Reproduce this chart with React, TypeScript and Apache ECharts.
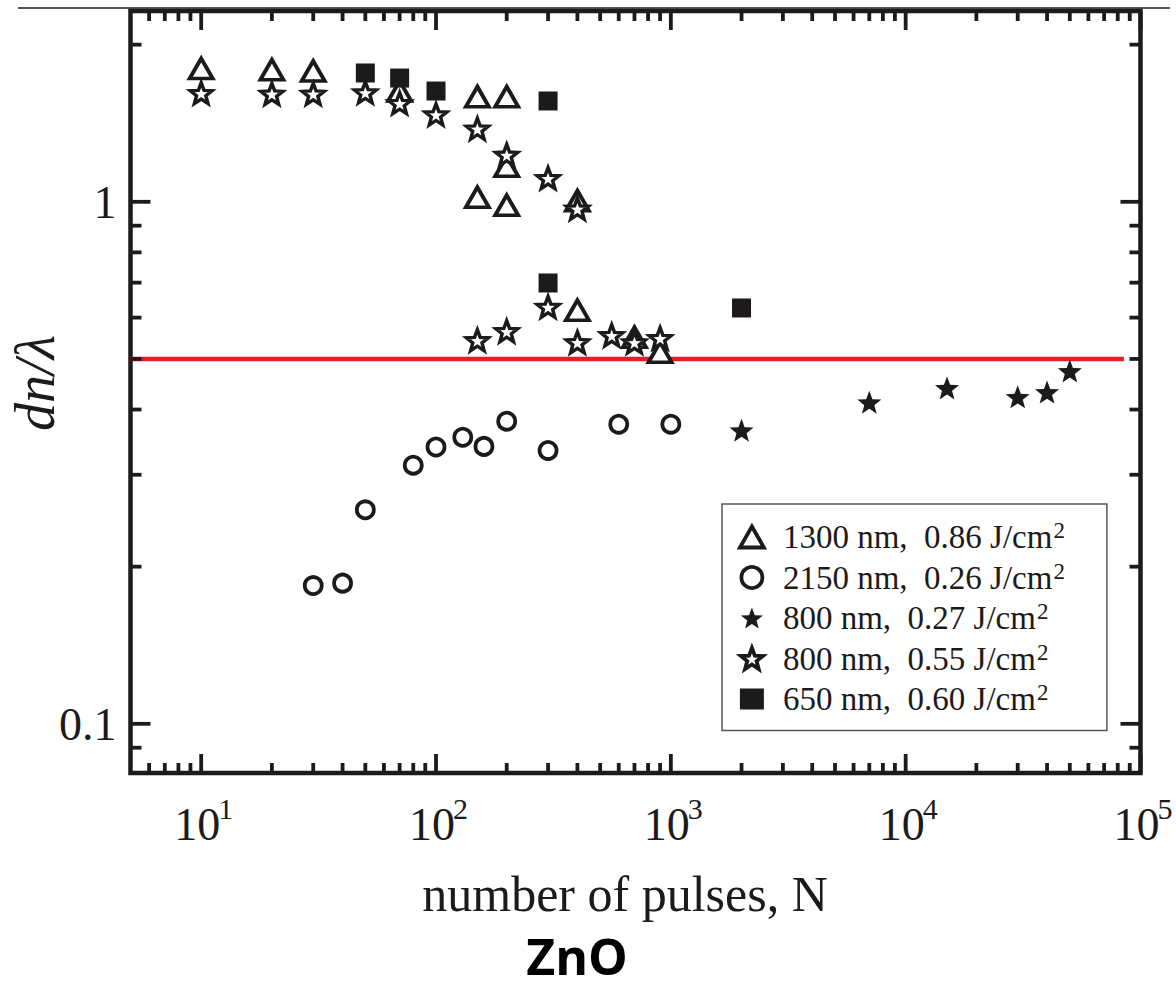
import React, { useEffect, useRef } from 'react';
import * as echarts from 'echarts';

const INK = '#1c1a1b';
const SERIF = '"Liberation Serif", "Times New Roman", serif';

// axis ranges
const X_MIN = 5;
const X_MAX = 100000;
const Y_MIN = 0.0805;
const Y_MAX = 2.32;

// ticks
const xMajorTicks = [10, 100, 1000, 10000, 100000];
const xTickExponents = ['1', '2', '3', '4', '5'];
const xMinorTicks = [6, 7, 8, 9, 20, 30, 40, 50, 60, 70, 80, 90, 200, 300, 400, 500, 600, 700, 800, 900,
  2000, 3000, 4000, 5000, 6000, 7000, 8000, 9000, 20000, 30000, 40000, 50000, 60000, 70000, 80000, 90000];
const yMajorTicks = [0.1, 1];
const yTickLabels = ['0.1', '1'];
const yMinorTicks = [0.09, 0.2, 0.3, 0.4, 0.5, 0.6, 0.7, 0.8, 0.9, 2];

// series names (legend)
const seriesNames = [
  '1300 nm,  0.86 J/cm²',
  '2150 nm,  0.26 J/cm²',
  '800 nm,  0.27 J/cm²',
  '800 nm,  0.55 J/cm²',
  '650 nm,  0.60 J/cm²',
];

// data: [N, dn/lambda]
const tri1300 = [
  [10, 1.80], [20, 1.79], [30, 1.78], [70, 1.63], [150, 1.59], [200, 1.59],
  [150, 1.02], [200, 0.985], [200, 1.17], [400, 1.005], [400, 0.62], [700, 0.55], [900, 0.515],
];
const circ2150 = [
  [30, 0.184], [40, 0.186], [50, 0.257], [80, 0.313], [100, 0.339], [130, 0.354],
  [160, 0.340], [200, 0.380], [300, 0.334], [600, 0.375], [1000, 0.375],
];
const starFilled800 = [
  [2000, 0.365], [7000, 0.413], [15000, 0.440], [30000, 0.423], [40000, 0.432], [50000, 0.474],
];
const starHollow800 = [
  [10, 1.615], [20, 1.61], [30, 1.61], [50, 1.62], [70, 1.545], [100, 1.47], [150, 1.38],
  [200, 1.23], [300, 1.11], [400, 0.97], [150, 0.543], [200, 0.565], [300, 0.629],
  [400, 0.538], [560, 0.555], [700, 0.538], [900, 0.548],
];
const square650 = [
  [50, 1.765], [70, 1.726], [100, 1.63], [300, 1.56], [300, 0.699], [2000, 0.626],
];

// red reference line
const thresholdValue = 0.5;
const thresholdRange = [5, 85000];

const STAR_PATH =
  'path://M50 0 L62.34 33.01 L97.55 34.55 L69.97 56.49 L79.39 90.45 L50 71 L20.61 90.45 L30.03 56.49 L2.45 34.55 L37.66 33.01 Z';

const hollow = { color: '#ffffff', borderColor: INK, borderWidth: 3.8, opacity: 1 };
const filled = { color: INK, opacity: 1 };

function App() {
  const ref = useRef<HTMLDivElement>(null);

  useEffect(() => {
    document.body.style.margin = '0';
    if (!ref.current) return;
    const chart = echarts.init(ref.current, null, { renderer: 'svg' });

    const xTickData = [
      ...xMajorTicks.map((v) => [v, 1, 1]),
      ...xMinorTicks.map((v) => [v, 1, 0]),
    ];
    const yTickData = [
      ...yMajorTicks.map((v) => [10, v, 1]),
      ...yMinorTicks.map((v) => [10, v, 0]),
    ];

    const renderXTicks = (params: any, api: any) => {
      const cs = params.coordSys;
      const px = api.coord([api.value(0), 1])[0];
      const len = api.value(2) ? 19 : 10;
      const bottom = cs.y + cs.height;
      return {
        type: 'group',
        children: [
          { type: 'line', shape: { x1: px, y1: bottom, x2: px, y2: bottom - len }, style: { stroke: INK, lineWidth: 3.8 } },
          { type: 'line', shape: { x1: px, y1: cs.y, x2: px, y2: cs.y + len }, style: { stroke: INK, lineWidth: 3.8 } },
        ],
      };
    };
    const renderYTicks = (params: any, api: any) => {
      const cs = params.coordSys;
      const py = api.coord([10, api.value(1)])[1];
      const len = api.value(2) ? 20 : 11;
      const right = cs.x + cs.width;
      return {
        type: 'group',
        children: [
          { type: 'line', shape: { x1: cs.x, y1: py, x2: cs.x + len, y2: py }, style: { stroke: INK, lineWidth: 3.8 } },
          { type: 'line', shape: { x1: right, y1: py, x2: right - len, y2: py }, style: { stroke: INK, lineWidth: 3.8 } },
        ],
      };
    };
    const renderXLabels = (params: any, api: any) => {
      const cs = params.coordSys;
      const px = api.coord([api.value(0), 1])[0];
      const bottom = cs.y + cs.height;
      return {
        type: 'group',
        children: [
          {
            type: 'text', x: px - 27, y: bottom + 51,
            style: { text: '10', fontSize: 46, fontFamily: SERIF, fill: INK, align: 'left', verticalAlign: 'middle' },
          },
          {
            type: 'text', x: px + 17, y: bottom + 35,
            style: { text: xTickExponents[params.dataIndex], fontSize: 30, fontFamily: SERIF, fill: INK, align: 'left', verticalAlign: 'middle' },
          },
        ],
      };
    };
    const renderYLabels = (params: any, api: any) => {
      const cs = params.coordSys;
      const py = api.coord([10, api.value(1)])[1];
      return {
        type: 'text', x: cs.x - 14, y: py + 1,
        style: { text: yTickLabels[params.dataIndex], fontSize: 46, fontFamily: SERIF, fill: INK, align: 'right', verticalAlign: 'middle' },
      };
    };

    const option: any = {
      animation: false,
      backgroundColor: '#ffffff',
      grid: {
        left: 130.5, top: 11, width: 1010, height: 762,
        show: true, borderColor: INK, borderWidth: 4.5, backgroundColor: 'transparent',
      },
      xAxis: {
        type: 'log', logBase: 10, min: X_MIN, max: X_MAX,
        axisLine: { show: false }, axisTick: { show: false }, axisLabel: { show: false }, splitLine: { show: false },
      },
      yAxis: {
        type: 'log', logBase: 10, min: Y_MIN, max: Y_MAX,
        axisLine: { show: false }, axisTick: { show: false }, axisLabel: { show: false }, splitLine: { show: false },
      },
      legend: {
        orient: 'vertical', left: 722, top: 504,
        padding: [15, 42, 15, 16], itemGap: 6, itemWidth: 24, itemHeight: 21,
        borderColor: '#555555', borderWidth: 1.5, backgroundColor: '#ffffff',
        selectedMode: false,
        data: seriesNames.map((name, i) => ({
          name,
          itemStyle: i === 2 || i === 4 ? { opacity: 1 } : { borderWidth: 3.8, opacity: 1 },
        })),
        formatter: (name: string) => `{t|${name.replace('²', '')}}{s|2}`,
        textStyle: {
          rich: {
            t: { fontFamily: SERIF, fontSize: 33, color: INK, lineHeight: 36, padding: [0, 0, 0, 14] },
            s: { fontFamily: SERIF, fontSize: 23, color: INK, lineHeight: 22, verticalAlign: 'top', padding: [0, 0, 0, 1] },
          },
        },
      },
      graphic: [
        { type: 'line', shape: { x1: 18, y1: 8, x2: 1170, y2: 8 }, style: { stroke: INK, lineWidth: 1.5 } },
        {
          type: 'text', x: 625, y: 894,
          style: { text: 'number of pulses, N', fontSize: 50, fontFamily: SERIF, fill: INK, align: 'center', verticalAlign: 'middle' },
        },
        {
          type: 'text', x: 35, y: 383, rotation: Math.PI / 2,
          style: { text: 'dn/λ', fontSize: 56, fontFamily: SERIF, fontStyle: 'italic', fill: INK, align: 'center', verticalAlign: 'middle' },
        },
        {
          type: 'text', x: 577, y: 956,
          style: { text: 'ZnO', fontSize: 50, fontFamily: '"Open Sans", "Noto Sans", sans-serif', fontWeight: 'bold', fill: '#000000', align: 'center', verticalAlign: 'middle' },
        },
      ],
      series: [
        {
          name: 'threshold', type: 'line', silent: true, z: 1,
          data: thresholdRange.map((x) => [x, thresholdValue]),
          showSymbol: false, symbol: 'none',
          lineStyle: { color: '#e31f26', width: 4.5 },
        },
        {
          name: seriesNames[0], type: 'scatter', z: 3, data: tri1300,
          symbol: 'triangle', symbolSize: [23, 20], itemStyle: hollow,
        },
        {
          name: seriesNames[1], type: 'scatter', z: 3, data: circ2150,
          symbol: 'circle', symbolSize: 17, itemStyle: hollow,
        },
        {
          name: seriesNames[2], type: 'scatter', z: 3, data: starFilled800,
          symbol: STAR_PATH, symbolSize: [24, 23], itemStyle: filled,
        },
        {
          name: seriesNames[3], type: 'scatter', z: 3, data: starHollow800,
          symbol: STAR_PATH, symbolSize: [22, 21], itemStyle: { color: '#ffffff', borderColor: INK, borderWidth: 3.4, opacity: 1 },
        },
        {
          name: seriesNames[4], type: 'scatter', z: 3, data: square650,
          symbol: 'rect', symbolSize: 19, itemStyle: filled,
        },
        { name: 'xticks', type: 'custom', z: 5, silent: true, data: xTickData, renderItem: renderXTicks, clip: false },
        { name: 'yticks', type: 'custom', z: 5, silent: true, data: yTickData, renderItem: renderYTicks, clip: false },
        { name: 'xlabels', type: 'custom', z: 5, silent: true, data: xMajorTicks.map((v) => [v, 1]), renderItem: renderXLabels, clip: false },
        { name: 'ylabels', type: 'custom', z: 5, silent: true, data: yMajorTicks.map((v) => [10, v]), renderItem: renderYLabels, clip: false },
      ],
    };

    chart.setOption(option);
    return () => chart.dispose();
  }, []);

  return <div ref={ref} style={{ width: 1176, height: 989 }} />;
}

export default App;
